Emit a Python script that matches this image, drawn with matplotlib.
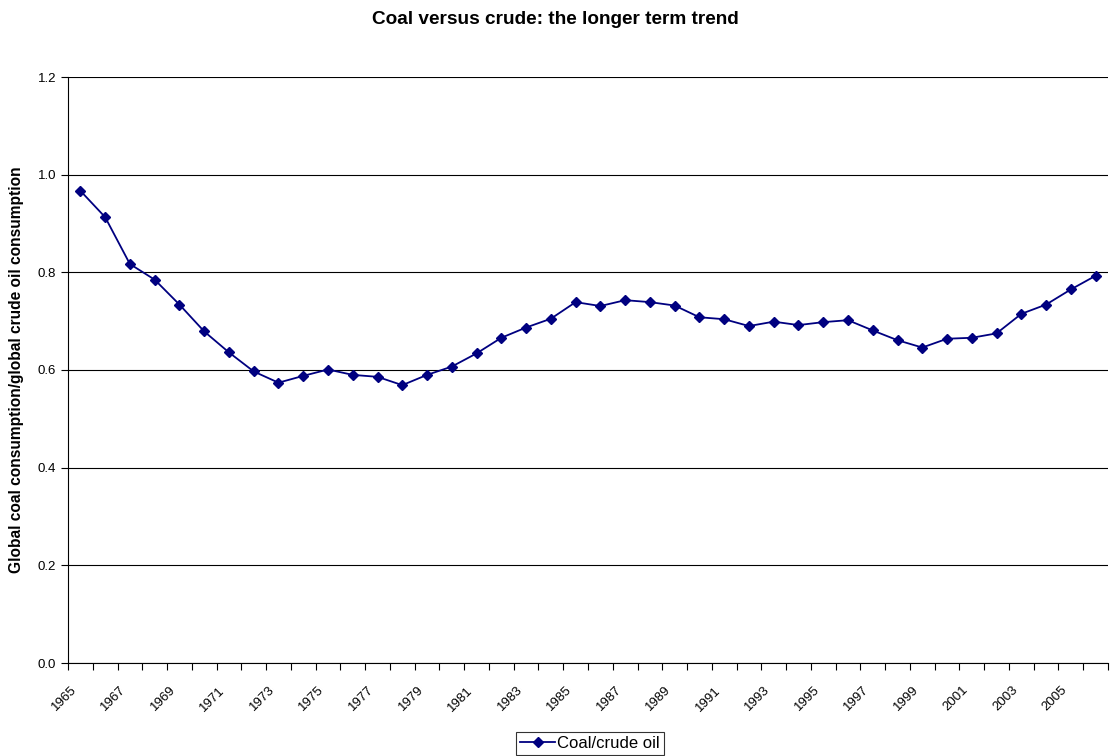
import matplotlib.pyplot as plt
import matplotlib.transforms as mtransforms
import numpy as np

plt.rcParams['font.family'] = ['Liberation Sans', 'DejaVu Sans']

years = list(range(1965, 2007))
ratio = [0.967, 0.913, 0.817, 0.785, 0.734, 0.679, 0.636, 0.597, 0.574, 0.588,
         0.601, 0.590, 0.586, 0.569, 0.590, 0.607, 0.634, 0.666, 0.687, 0.705,
         0.739, 0.731, 0.743, 0.739, 0.732, 0.708, 0.704, 0.690, 0.699, 0.692,
         0.698, 0.702, 0.681, 0.661, 0.646, 0.664, 0.666, 0.675, 0.715, 0.734,
         0.765, 0.793]
yticks = [0.0, 0.2, 0.4, 0.6, 0.8, 1.0, 1.2]

fig = plt.figure(figsize=(11.1, 7.56), dpi=100)
ax = fig.add_axes([68/1110, 93/756, 1040/1110, 586/756])

x = np.arange(len(years))
ax.plot(x, ratio, color='#000080', lw=1.3, marker='D', ms=5.5, label='Coal/crude oil')

ax.set_xlim(-0.5, len(years) - 0.5)
ax.set_ylim(0, 1.2)
ax.set_yticks(yticks)
ax.set_yticklabels(['%.1f' % v for v in yticks], fontsize=9.5)
ax.yaxis.grid(True, color='black', lw=0.8)
ax.set_axisbelow(True)

# ticks at category boundaries, labels every other year at centres
ax.set_xticks(np.arange(len(years) + 1) - 0.5)
ax.set_xticklabels([])
ax.set_xticks(x[::2], minor=True)
ax.set_xticklabels([str(y) for y in years[::2]], minor=True, rotation=45,
                   ha='right', va='top', rotation_mode='anchor', fontsize=9.5)
ax.tick_params(axis='x', which='minor', length=0, pad=8)
ax.tick_params(axis='both', which='major', length=5, direction='out', color='black')
shift = mtransforms.ScaledTranslation(-10/100, -10/100, fig.dpi_scale_trans)
for lab in ax.get_xticklabels(minor=True):
    lab.set_transform(lab.get_transform() + shift)

for s in ['top', 'right']:
    ax.spines[s].set_visible(False)
ax.spines['left'].set_color('black')
ax.spines['bottom'].set_color('black')

ax.set_ylabel('Global coal consumption/global crude oil consumption', fontsize=11.2,
              fontweight='bold', labelpad=10)
fig.text(0.5, 1 - 19/756, 'Coal versus crude: the longer term trend', ha='center',
         va='center', fontsize=13.7, fontweight='bold')

leg = ax.legend(loc='upper center', bbox_to_anchor=(590/1110, 1 - 732/756),
                bbox_transform=fig.transFigure, fontsize=12, frameon=True,
                fancybox=False, edgecolor='black', handlelength=2.1,
                borderpad=0.25, borderaxespad=0, handletextpad=0.1)
leg.get_frame().set_linewidth(0.8)

fig.savefig('out.png', dpi=100)
